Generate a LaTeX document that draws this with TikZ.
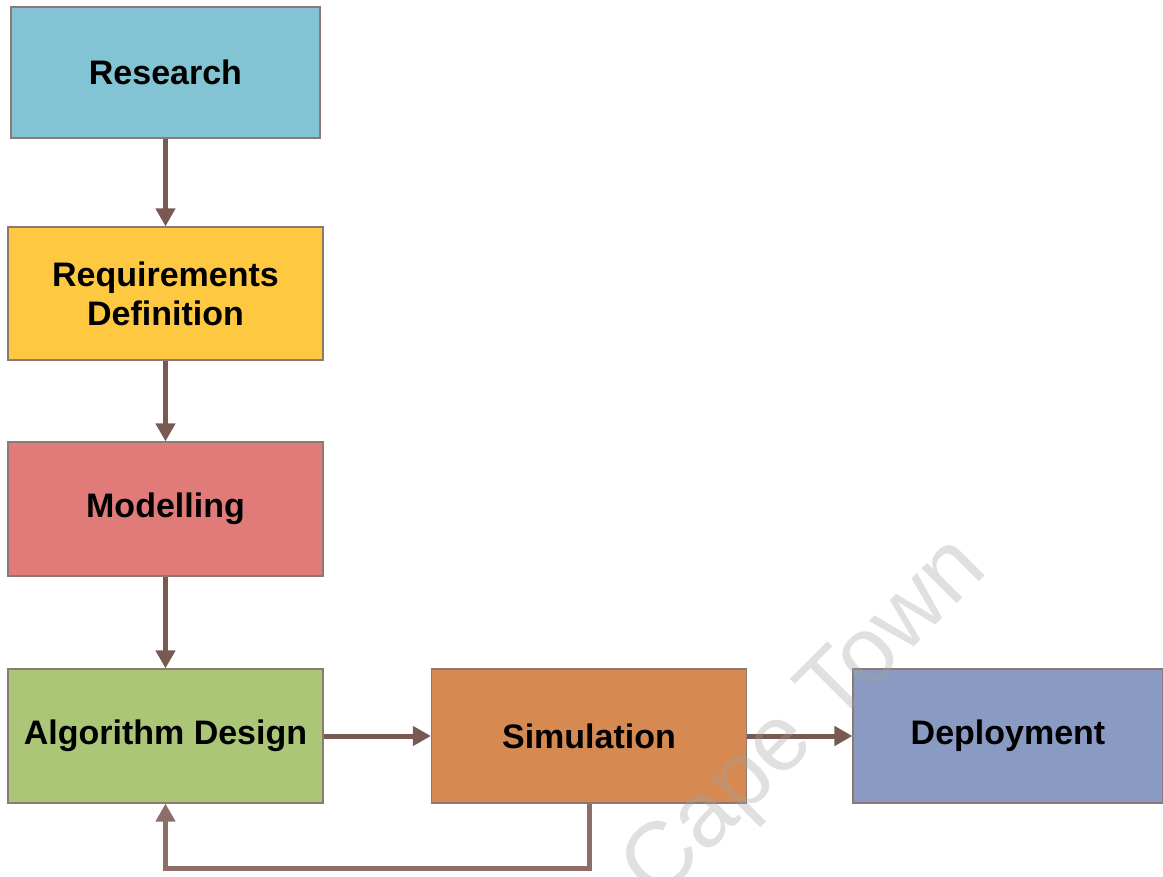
\documentclass[tikz,border=0pt]{standalone}
\usepackage{fontspec}
\setmainfont{Liberation Sans}
\usetikzlibrary{positioning,arrows.meta}

\definecolor{researchblue}{HTML}{83C4D4}
\definecolor{reqyellow}{HTML}{FEC841}
\definecolor{modelred}{HTML}{E07B7A}
\definecolor{algogreen}{HTML}{ACC677}
\definecolor{simorange}{HTML}{D68A52}
\definecolor{deployblue}{HTML}{8A9BC3}
\definecolor{boxline}{HTML}{8C7A72}
\definecolor{flowbrown}{HTML}{785A52}
\definecolor{loopbrown}{HTML}{8E6E68}
\definecolor{markgray}{HTML}{A0A0A0}

\tikzset{
  stage/.style={draw=boxline, line width=0.6pt, inner sep=0pt,
    minimum width=157.5pt, minimum height=67pt, align=center,
    font=\fontsize{17}{19.5}\selectfont\bfseries},
  flow/.style={draw=flowbrown, line width=2.5pt,
    -{Triangle[length=9pt,width=9.5pt]}},
}

\begin{document}
\begin{tikzpicture}[x=0.5pt,y=-0.5pt]
	
	\useasboundingbox (0,0) rectangle (1163,877);
	
	\node[stage,fill=researchblue,minimum width=154.5pt,minimum height=65.5pt] (research) at (165.5,72.5) {Research};
	\node[stage,fill=reqyellow,minimum height=66.5pt] (req) at (165.5,293.5) {Requirements\\Definition};
	\node[stage,fill=modelred] (model) at (165.5,509) {Modelling};
	\node[stage,fill=algogreen] (algo) at (165.5,736) {Algorithm Design};
	\node[stage,fill=simorange] (sim) at (589,736) {Simulation};
	\node[stage,fill=deployblue,minimum width=155pt] (deploy) at (1008,736) {Deployment};
	
	\draw[flow] (research) -- (req);
	\draw[flow] (req) -- (model);
	\draw[flow] (model) -- (algo);
	\draw[flow] (algo) -- (sim);
	\draw[flow] (sim) -- (deploy);
	
	% loop back from simulation
	\draw[flow,draw=loopbrown] (sim.south) -- ++(0,65) -| (algo.south);
	
	\node[markgray,opacity=0.32,rotate=45,anchor=base east,inner sep=0pt,font=\fontsize{47}{47}\selectfont] (mark) at (990,571) {Cape Town};
	
\end{tikzpicture}
\end{document}
